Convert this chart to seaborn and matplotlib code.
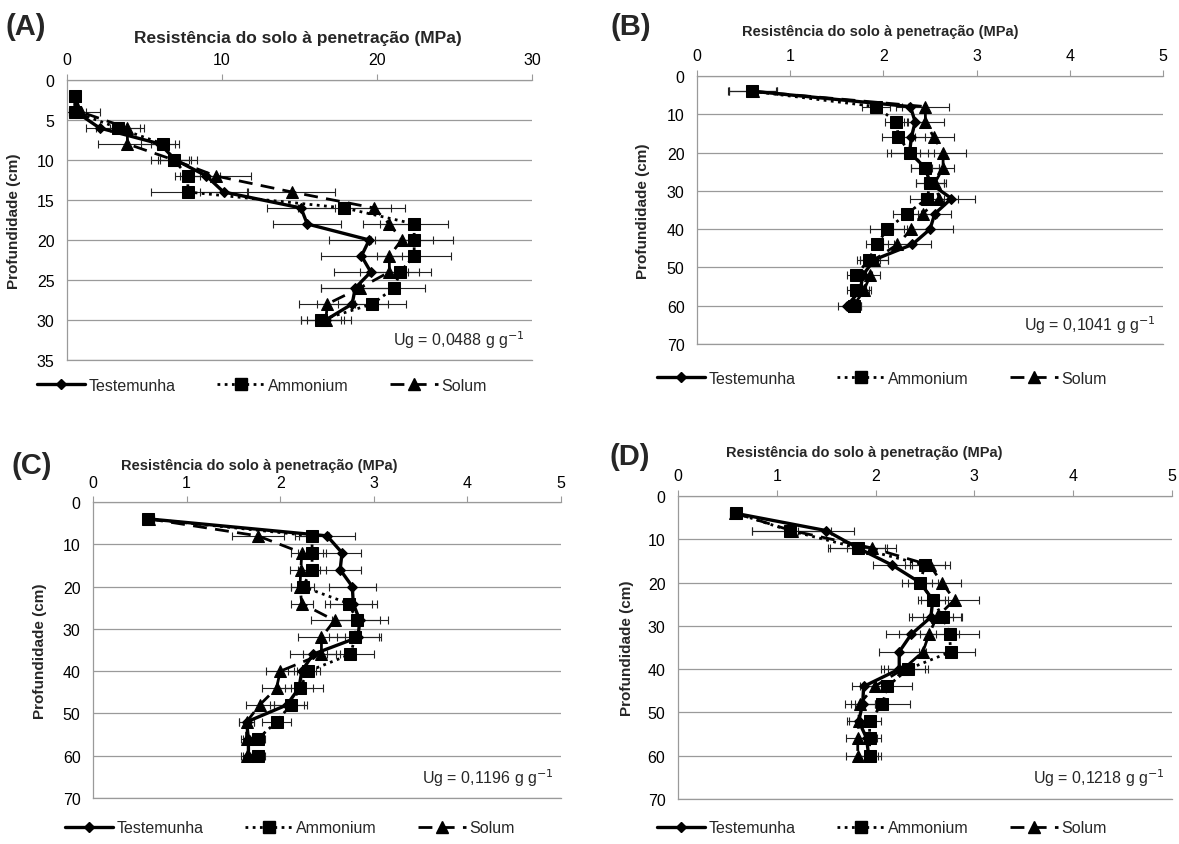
import matplotlib
matplotlib.use("Agg")
import matplotlib.pyplot as plt
from matplotlib.lines import Line2D
import seaborn as sns

sns.set_style("white")
plt.rcParams['font.family'] = ['Liberation Sans', 'DejaVu Sans']

# ===============================
# Data
# ===============================

depth_a = [2, 4, 6, 8, 10, 12, 14, 16, 18, 20, 22, 24, 26, 28, 30]
depth_bcd = [4, 8, 12, 16, 20, 24, 28, 32, 36, 40, 44, 48, 52, 56, 60]

# Panel A, Ug = 0,0488
test_a = [0.5, 0.6, 2.1, 6.0, 7.0, 9.0, 10.1, 15.1, 15.5, 19.5, 19.0, 19.6, 18.6, 18.4, 16.7]
amm_a = [0.5, 0.5, 3.3, 6.2, 6.9, 7.8, 7.8, 17.9, 22.4, 22.4, 22.4, 21.5, 21.1, 19.7, 16.4]
sol_a = [0.5, 0.9, 3.9, 3.9, 6.9, 9.6, 14.5, 19.8, 20.8, 21.6, 20.8, 20.8, 18.9, 16.8, 16.7]
test_a_err = [0.2, 0.6, 0.9, 1.2, 1.0, 0.9, 1.5, 2.2, 2.2, 2.6, 2.6, 2.4, 2.2, 2.3, 1.6]
amm_a_err = [0.3, 0.4, 1.4, 0.8, 1.5, 0.8, 2.4, 3.0, 2.2, 2.5, 2.4, 2.0, 2.0, 2.2, 1.3]
sol_a_err = [0.3, 1.2, 1.1, 1.9, 1.0, 2.3, 2.8, 2.0, 1.7, 2.0, 1.8, 1.9, 2.5, 1.8, 1.2]

# Panel B, Ug = 0,1041
test_b = [0.60, 2.29, 2.34, 2.30, 2.28, 2.45, 2.50, 2.73, 2.55, 2.50, 2.31, 1.90, 1.78, 1.75, 1.61]
amm_b = [0.59, 1.92, 2.14, 2.16, 2.29, 2.45, 2.50, 2.47, 2.25, 2.04, 1.93, 1.84, 1.71, 1.71, 1.68]
sol_b = [0.60, 2.45, 2.45, 2.54, 2.64, 2.64, 2.55, 2.60, 2.42, 2.30, 2.15, 1.90, 1.86, 1.79, 1.68]
test_b_err = [0.26, 0.15, 0.12, 0.15, 0.20, 0.15, 0.15, 0.25, 0.18, 0.25, 0.20, 0.15, 0.10, 0.10, 0.10]
amm_b_err = [0.26, 0.15, 0.12, 0.18, 0.25, 0.15, 0.15, 0.18, 0.15, 0.18, 0.12, 0.12, 0.10, 0.10, 0.08]
sol_b_err = [0.26, 0.25, 0.20, 0.22, 0.25, 0.12, 0.12, 0.20, 0.15, 0.20, 0.15, 0.15, 0.10, 0.08, 0.08]

# Panel C, Ug = 0,1196
test_c = [0.60, 2.50, 2.66, 2.64, 2.77, 2.78, 2.85, 2.83, 2.35, 2.23, 2.20, 2.07, 1.64, 1.66, 1.66]
amm_c = [0.59, 2.34, 2.34, 2.34, 2.24, 2.73, 2.82, 2.80, 2.75, 2.30, 2.21, 2.11, 1.96, 1.76, 1.76]
sol_c = [0.60, 1.76, 2.23, 2.22, 2.21, 2.23, 2.58, 2.44, 2.44, 2.00, 1.96, 1.78, 1.64, 1.64, 1.64]
test_c_err = [0.05, 0.30, 0.20, 0.22, 0.25, 0.25, 0.30, 0.22, 0.25, 0.15, 0.15, 0.18, 0.08, 0.06, 0.06]
amm_c_err = [0.05, 0.18, 0.15, 0.15, 0.12, 0.25, 0.25, 0.28, 0.25, 0.12, 0.25, 0.18, 0.15, 0.08, 0.08]
sol_c_err = [0.05, 0.28, 0.12, 0.12, 0.10, 0.12, 0.25, 0.25, 0.20, 0.15, 0.15, 0.15, 0.08, 0.06, 0.06]

# Panel D, Ug = 0,1218
test_d = [0.58, 1.50, 1.82, 2.17, 2.45, 2.58, 2.56, 2.36, 2.24, 2.24, 1.88, 1.87, 1.83, 1.91, 1.93]
amm_d = [0.59, 1.13, 1.82, 2.50, 2.45, 2.58, 2.68, 2.75, 2.76, 2.33, 2.12, 2.07, 1.94, 1.94, 1.94]
sol_d = [0.58, 1.15, 1.96, 2.55, 2.67, 2.80, 2.62, 2.54, 2.48, 2.28, 1.99, 1.84, 1.83, 1.82, 1.82]
test_d_err = [0.05, 0.28, 0.30, 0.20, 0.12, 0.15, 0.22, 0.25, 0.20, 0.15, 0.12, 0.12, 0.10, 0.10, 0.10]
amm_d_err = [0.05, 0.38, 0.28, 0.20, 0.18, 0.12, 0.20, 0.30, 0.25, 0.20, 0.25, 0.28, 0.12, 0.12, 0.12]
sol_d_err = [0.05, 0.40, 0.25, 0.20, 0.20, 0.25, 0.25, 0.30, 0.25, 0.22, 0.15, 0.15, 0.12, 0.12, 0.12]

series_names = ["Testemunha", "Ammonium", "Solum"]
title_text = "Resistência do solo à penetração (MPa)"

panels = [
    dict(label="(A)", depth=depth_a, vals=[test_a, amm_a, sol_a],
         errs=[test_a_err, amm_a_err, sol_a_err], xmax=30, xstep=10, ymax=35, ystep=5,
         ug="0,0488", rect=[0.0568, 0.5728, 0.3944, 0.3314],
         lab_xy=(0.005, 0.968), title_xy=(0.253, 0.955), title_fs=12.5,
         leg_xy=(0.222, 0.543), ylab_x=0.012),
    dict(label="(B)", depth=depth_bcd, vals=[test_b, amm_b, sol_b],
         errs=[test_b_err, amm_b_err, sol_b_err], xmax=5, xstep=1, ymax=70, ystep=10,
         ug="0,1041", rect=[0.5912, 0.5917, 0.3953, 0.3172],
         lab_xy=(0.518, 0.968), title_xy=(0.747, 0.962), title_fs=10.5,
         leg_xy=(0.748, 0.551), ylab_x=0.545),
    dict(label="(C)", depth=depth_bcd, vals=[test_c, amm_c, sol_c],
         errs=[test_c_err, amm_c_err, sol_c_err], xmax=5, xstep=1, ymax=70, ystep=10,
         ug="0,1196", rect=[0.0789, 0.0544, 0.3970, 0.3503],
         lab_xy=(0.010, 0.449), title_xy=(0.220, 0.449), title_fs=10.5,
         leg_xy=(0.246, 0.019), ylab_x=0.034),
    dict(label="(D)", depth=depth_bcd, vals=[test_d, amm_d, sol_d],
         errs=[test_d_err, amm_d_err, sol_d_err], xmax=5, xstep=1, ymax=70, ystep=10,
         ug="0,1218", rect=[0.5750, 0.0533, 0.4190, 0.3586],
         lab_xy=(0.517, 0.459), title_xy=(0.733, 0.464), title_fs=10.5,
         leg_xy=(0.748, 0.019), ylab_x=0.532),
]

styles = [
    dict(linestyle="-", marker="D", markersize=5, linewidth=2.4),
    dict(linestyle=(0, (1, 1.6)), marker="s", markersize=8, linewidth=2.0),
    dict(linestyle=(0, (5, 3)), marker="^", markersize=8, linewidth=2.0),
]

grid_col = "#9a9a9a"

fig = plt.figure(figsize=(11.79, 8.45), dpi=100)

for p in panels:
    ax = fig.add_axes(p["rect"])

    # horizontal error bars under the lines
    for vals, errs in zip(p["vals"], p["errs"]):
        ax.errorbar(vals, p["depth"], xerr=errs, fmt="none", ecolor="#222222",
                    elinewidth=0.8, capsize=3, capthick=0.8, zorder=2)

    for name, vals, st in zip(series_names, p["vals"], styles):
        sns.lineplot(x=vals, y=p["depth"], orient="y", sort=False, ax=ax,
                     color="black", markeredgecolor="black", errorbar=None,
                     zorder=3, **st)

    ax.set_xlim(0, p["xmax"])
    ax.set_ylim(p["ymax"], 0)
    ax.set_xticks(range(0, p["xmax"] + 1, p["xstep"]))
    ax.set_yticks(range(0, p["ymax"] + 1, p["ystep"]))
    ax.xaxis.tick_top()
    ax.tick_params(axis="both", labelsize=11.5, labelcolor="black", length=4,
                   width=0.8, direction="out", color=grid_col, pad=5)

    ax.yaxis.grid(True, color=grid_col, linewidth=0.9)
    ax.xaxis.grid(False)
    ax.spines["right"].set_visible(False)
    for side in ["top", "bottom", "left"]:
        ax.spines[side].set_color(grid_col)
        ax.spines[side].set_linewidth(0.9)

    ax.set_xlabel("")
    ax.set_ylabel("")
    fig.text(p["ylab_x"], p["rect"][1] + p["rect"][3] / 2, "Profundidade (cm)",
             rotation=90, ha="center", va="center", fontsize=11, fontweight="bold")

    ax.text(0.985, 0.035, "Ug = " + p["ug"] + " g g$^{-1}$", transform=ax.transAxes,
            ha="right", va="bottom", fontsize=11.5)

    fig.text(p["lab_xy"][0], p["lab_xy"][1], p["label"], fontsize=21,
             fontweight="bold", ha="left", va="center")
    fig.text(p["title_xy"][0], p["title_xy"][1], title_text, fontsize=p["title_fs"],
             fontweight="bold", ha="center", va="center")

    handles = [Line2D([0], [0], color="black", **st) for st in styles]
    fig.legend(handles, series_names, loc="center", ncol=3, frameon=False,
               bbox_to_anchor=p["leg_xy"], fontsize=11.5, handlelength=3.0,
               handletextpad=0.2, columnspacing=2.6)

fig.savefig("out.png", dpi=100)
